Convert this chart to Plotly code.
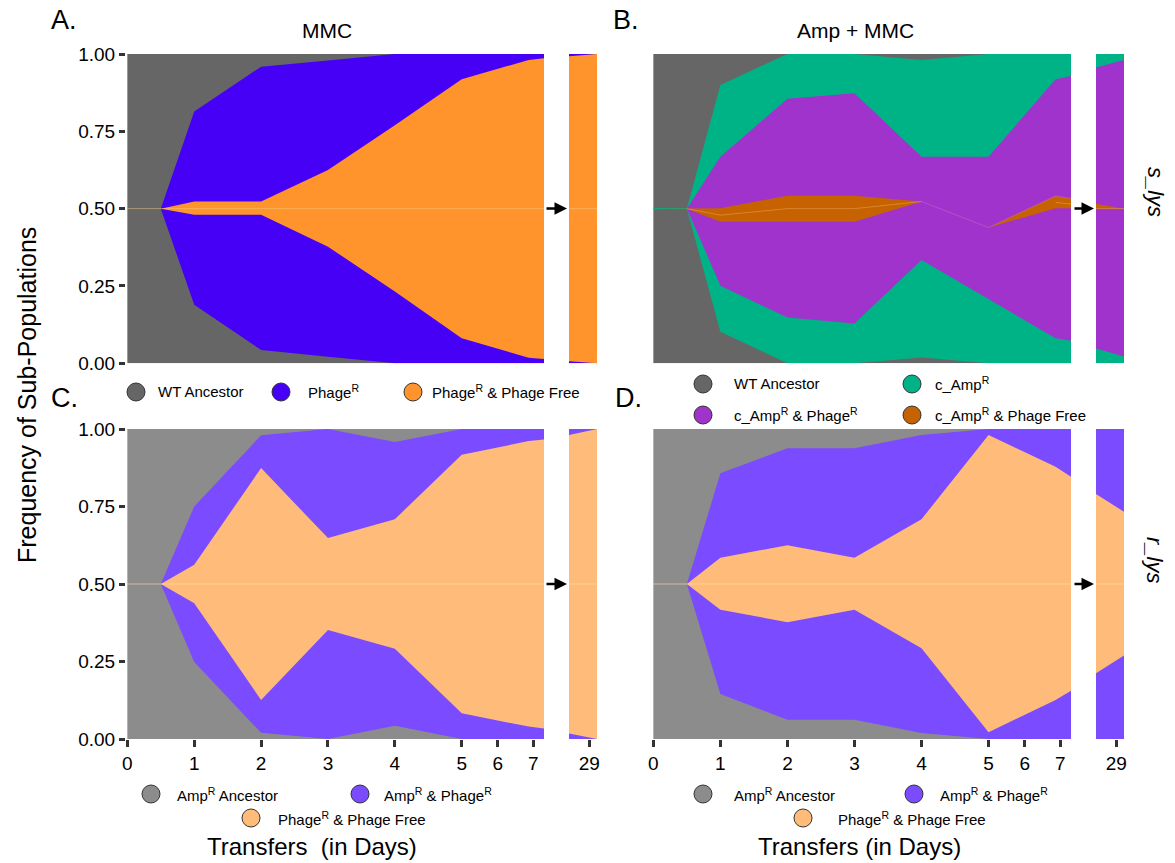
import plotly.graph_objects as go

W, H = 1175, 863
def fx(p): return p / W
def fy(p): return 1 - p / H

# ---------------- data ----------------
# x positions of the sampled transfers (days 0, 0.5, 1..5, 7, axis edge) on the compressed axis
pos_main = [0, 0.5, 1, 2, 3, 4, 5, 6.0, 6.23]
pos_strip = [28.2, 29.3]
tick_pos = [0, 1, 2, 3, 4, 5, 5.54, 6.07]
tick_text = ["0", "1", "2", "3", "4", "5", "6", "7"]
ytick_vals = [0, 0.25, 0.5, 0.75, 1.0]
ytick_text = ["0.00", "0.25", "0.50", "0.75", "1.00"]

full_hi = [1, 1, 1, 1, 1, 1, 1, 1, 1]
full_lo = [0, 0, 0, 0, 0, 0, 0, 0, 0]
strip_hi = [1, 1]
strip_lo = [0, 0]

# Panel A: MMC, s_lys
a_phager_hi = [0.5, 0.5, 0.814, 0.959, 0.979, 1.0, 1.0, 1.0, 1.0]
a_phager_lo = [0.5, 0.5, 0.189, 0.043, 0.021, 0.0, 0.0, 0.0, 0.0]
a_free_hi = [0.5, 0.5, 0.523, 0.523, 0.625, 0.770, 0.918, 0.981, 0.986]
a_free_lo = [0.5, 0.5, 0.480, 0.480, 0.377, 0.232, 0.081, 0.018, 0.014]
a_mid = [0.5, 0.5, 0.5, 0.5, 0.5, 0.5, 0.5, 0.5, 0.5]
a29_free_hi = [0.993, 1.0]
a29_free_lo = [0.007, 0.0]

# Panel B: Amp + MMC, s_lys
b_amp_hi = [0.5, 0.5, 0.900, 1.0, 1.0, 0.981, 1.0, 1.0, 1.0]
b_amp_lo = [0.5, 0.5, 0.102, 0.0, 0.0, 0.019, 0.0, 0.0, 0.0]
b_phager_hi = [0.5, 0.5, 0.668, 0.855, 0.873, 0.668, 0.668, 0.918, 0.929]
b_phager_lo = [0.5, 0.5, 0.251, 0.148, 0.129, 0.334, 0.208, 0.081, 0.073]
b_free_hi = [0.5, 0.5, 0.501, 0.542, 0.542, 0.523, 0.439, 0.541, 0.533]
b_free_lo = [0.5, 0.5, 0.458, 0.458, 0.458, 0.523, 0.439, 0.501, 0.501]
b_mid = [None, 0.5, 0.479, 0.5, 0.5, 0.523, None, 0.52, 0.515]
b29_phager_hi = [0.956, 0.981]
b29_phager_lo = [0.048, 0.022]
b29_free_hi = [0.516, 0.5]
b29_free_lo = [0.5, 0.5]

# Panel C: MMC, r_lys
c_phager_hi = [0.5, 0.5, 0.750, 0.980, 1.0, 0.958, 1.0, 1.0, 1.0]
c_phager_lo = [0.5, 0.5, 0.248, 0.020, 0.0, 0.043, 0.0, 0.0, 0.0]
c_free_hi = [0.5, 0.5, 0.562, 0.874, 0.648, 0.709, 0.917, 0.961, 0.966]
c_free_lo = [0.5, 0.5, 0.438, 0.126, 0.352, 0.291, 0.083, 0.040, 0.034]
c29_free_hi = [0.981, 1.0]
c29_free_lo = [0.018, 0.0]

# Panel D: Amp + MMC, r_lys
d_phager_hi = [0.5, 0.5, 0.857, 0.938, 0.938, 0.981, 1.0, 1.0, 1.0]
d_phager_lo = [0.5, 0.5, 0.145, 0.062, 0.062, 0.019, 0.0, 0.0, 0.0]
d_free_hi = [0.5, 0.5, 0.585, 0.625, 0.585, 0.709, 0.981, 0.878, 0.846]
d_free_lo = [0.5, 0.5, 0.417, 0.377, 0.417, 0.293, 0.022, 0.126, 0.156]
d29_free_hi = [0.790, 0.733]
d29_free_lo = [0.212, 0.269]

# colours
WT_DARK = "#666666"
PHAGER_A = "#4600F5"
FREE_A = "#FF942C"
AMP_B = "#00B386"
PHAGER_B = "#A033CC"
FREE_B = "#C66300"
WT_LIGHT = "#8C8C8C"
PHAGER_C = "#7B4BFF"
FREE_C = "#FEBB79"

FONT = "Arial, Liberation Sans, sans-serif"

fig = go.Figure()

def band(xs, lo, hi, color, k):
    xa = "x" if k == 1 else f"x{k}"
    ya = "y" if k == 1 else f"y{k}"
    fig.add_trace(go.Scatter(
        x=list(xs) + list(xs)[::-1], y=list(hi) + list(lo)[::-1],
        fill="toself", fillcolor=color, mode="lines",
        line=dict(width=0, color=color), xaxis=xa, yaxis=ya,
        hoverinfo="skip", showlegend=False))

def midline(xs, ys, color, k, width=1):
    xa = "x" if k == 1 else f"x{k}"
    ya = "y" if k == 1 else f"y{k}"
    fig.add_trace(go.Scatter(x=xs, y=ys, mode="lines", line=dict(color=color, width=width),
                             xaxis=xa, yaxis=ya, hoverinfo="skip", showlegend=False))

# Panel A
band(pos_main, full_lo, full_hi, WT_DARK, 1)
band(pos_main, a_phager_lo, a_phager_hi, PHAGER_A, 1)
band(pos_main, a_free_lo, a_free_hi, FREE_A, 1)
midline(pos_main, a_mid, "rgba(245,205,130,0.5)", 1)
band(pos_strip, strip_lo, strip_hi, PHAGER_A, 2)
band(pos_strip, a29_free_lo, a29_free_hi, FREE_A, 2)
midline(pos_strip, [0.5, 0.5], "rgba(245,205,130,0.5)", 2)

# Panel B
band(pos_main, full_lo, full_hi, WT_DARK, 3)
band(pos_main, b_amp_lo, b_amp_hi, AMP_B, 3)
midline(pos_main[:2], [0.5, 0.5], AMP_B, 3)
band(pos_main, b_phager_lo, b_phager_hi, PHAGER_B, 3)
band(pos_main, b_free_lo, b_free_hi, FREE_B, 3)
midline(pos_main, b_mid, "rgba(235,160,90,0.55)", 3)
midline(pos_main[5:], b_free_hi[5:], "rgba(215,120,190,0.5)", 3, 0.8)
band(pos_strip, strip_lo, strip_hi, AMP_B, 4)
band(pos_strip, b29_phager_lo, b29_phager_hi, PHAGER_B, 4)
band(pos_strip, b29_free_lo, b29_free_hi, FREE_B, 4)
midline(pos_strip, [0.5, 0.5], "rgba(235,160,90,0.55)", 4)

# Panel C
band(pos_main, full_lo, full_hi, WT_LIGHT, 5)
band(pos_main, c_phager_lo, c_phager_hi, PHAGER_C, 5)
band(pos_main, c_free_lo, c_free_hi, FREE_C, 5)
midline(pos_main, a_mid, "rgba(255,235,160,0.55)", 5)
band(pos_strip, strip_lo, strip_hi, PHAGER_C, 6)
band(pos_strip, c29_free_lo, c29_free_hi, FREE_C, 6)
midline(pos_strip, [0.5, 0.5], "rgba(255,235,160,0.55)", 6)

# Panel D
band(pos_main, full_lo, full_hi, WT_LIGHT, 7)
band(pos_main, d_phager_lo, d_phager_hi, PHAGER_C, 7)
band(pos_main, d_free_lo, d_free_hi, FREE_C, 7)
midline(pos_main, a_mid, "rgba(255,235,160,0.55)", 7)
band(pos_strip, strip_lo, strip_hi, PHAGER_C, 8)
band(pos_strip, d29_free_lo, d29_free_hi, FREE_C, 8)
midline(pos_strip, [0.5, 0.5], "rgba(255,235,160,0.55)", 8)

# ---------------- axes ----------------
row1 = [fy(363.3), fy(54)]
row2 = [fy(739), fy(429)]
colA = [fx(126), fx(544)]
colAs = [fx(569), fx(597)]
colB = [fx(652), fx(1071)]
colBs = [fx(1096), fx(1124)]

tickfont = dict(family=FONT, size=19, color="black")
xmain_range = [-0.02, 6.23]
xstrip_range = [28.2, 29.3]

def xax(domain, rng, anchor, show):
    d = dict(domain=domain, range=rng, anchor=anchor, showgrid=False, zeroline=False,
             showline=False, fixedrange=True, automargin=False)
    if show:
        d.update(ticks="outside", ticklen=7, tickwidth=3, tickcolor="#333333",
                 tickfont=tickfont, showticklabels=True)
    else:
        d.update(ticks="", showticklabels=False)
    return d

def yax(domain, anchor, show):
    d = dict(domain=domain, range=[0, 1], anchor=anchor, showgrid=False, zeroline=False,
             showline=False, fixedrange=True, automargin=False)
    if show:
        d.update(ticks="outside", ticklen=6, tickwidth=3, tickcolor="#333333",
                 tickvals=ytick_vals, ticktext=ytick_text, tickfont=tickfont, showticklabels=True)
    else:
        d.update(ticks="", showticklabels=False)
    return d

layout_axes = {}
specs = [
    (1, colA, xmain_range, row1, False, True),
    (2, colAs, xstrip_range, row1, False, False),
    (3, colB, xmain_range, row1, False, False),
    (4, colBs, xstrip_range, row1, False, False),
    (5, colA, xmain_range, row2, True, True),
    (6, colAs, xstrip_range, row2, True, False),
    (7, colB, xmain_range, row2, True, False),
    (8, colBs, xstrip_range, row2, True, False),
]
for k, xd, xr, yd, showx, showy in specs:
    xn = "xaxis" if k == 1 else f"xaxis{k}"
    yn = "yaxis" if k == 1 else f"yaxis{k}"
    ya = "y" if k == 1 else f"y{k}"
    xa = "x" if k == 1 else f"x{k}"
    xd_ = xax(xd, xr, ya, showx)
    if showx:
        if xr == xmain_range:
            xd_.update(tickvals=tick_pos, ticktext=tick_text)
        else:
            xd_.update(tickvals=[29], ticktext=["29"])
    layout_axes[xn] = xd_
    layout_axes[yn] = yax(yd, xa, showy)

# ---------------- annotations ----------------
ann = []
def text(x, y, s, size, xanchor="center", yanchor="middle", angle=0):
    ann.append(dict(x=fx(x), y=fy(y), xref="paper", yref="paper", text=s, showarrow=False,
                    xanchor=xanchor, yanchor=yanchor, textangle=angle,
                    font=dict(family=FONT, size=size, color="black")))

text(64, 20, "A.", 27)
text(626, 20, "B.", 27)
text(64, 398, "C.", 27)
text(628, 398, "D.", 27)
text(327, 30, "MMC", 21)
text(855, 30, "Amp + MMC", 21)
text(27, 395, "Frequency of Sub-Populations", 25, angle=-90)
text(312, 846, "Transfers \u00a0(in Days)", 24)
text(860, 846, "Transfers (in Days)", 24)
text(1155, 192, "<i>s_lys</i>", 22, angle=90)
text(1155, 560, "<i>r_lys</i>", 22, angle=90)

# arrows between main panel and day-29 strip
for (x0, x1, yy) in [(545, 567, 208.6), (1073, 1094, 208.6), (545, 567, 584), (1073, 1094, 584)]:
    ann.append(dict(x=fx(x1), y=fy(yy), xref="paper", yref="paper", ax=x0 - x1, ay=0,
                    axref="pixel", ayref="pixel", showarrow=True, arrowhead=2, arrowsize=1,
                    arrowwidth=2.5, arrowcolor="black", text=""))

# legends
shapes = []
legend_items = [
    # (cx, cy, color, label, text_x)
    (136, 392, WT_DARK, "WT Ancestor", 156),
    (281, 392, PHAGER_A, "Phage<sup>R</sup>", 306),
    (413, 392, FREE_A, "Phage<sup>R</sup> &amp; Phage Free", 430),
    (703, 384, WT_DARK, "WT Ancestor", 732),
    (912, 384, AMP_B, "c_Amp<sup>R</sup>", 933),
    (703, 415, PHAGER_B, "c_Amp<sup>R</sup> &amp; Phage<sup>R</sup>", 732),
    (912, 415, FREE_B, "c_Amp<sup>R</sup> &amp; Phage Free", 933),
    (151, 794, WT_LIGHT, "Amp<sup>R</sup> Ancestor", 175),
    (360, 794, PHAGER_C, "Amp<sup>R</sup> &amp; Phage<sup>R</sup>", 382),
    (251, 818, FREE_C, "Phage<sup>R</sup> &amp; Phage Free", 276),
    (703, 794, WT_LIGHT, "Amp<sup>R</sup> Ancestor", 732),
    (914, 794, PHAGER_C, "Amp<sup>R</sup> &amp; Phage<sup>R</sup>", 938),
    (803, 818, FREE_C, "Phage<sup>R</sup> &amp; Phage Free", 836),
]
r = 9
for cx, cy, col, lab, tx in legend_items:
    shapes.append(dict(type="circle", xref="paper", yref="paper",
                       x0=fx(cx - r), x1=fx(cx + r), y0=fy(cy + r), y1=fy(cy - r),
                       fillcolor=col, line=dict(color="#333333", width=1)))
    ann.append(dict(x=fx(tx), y=fy(cy), xref="paper", yref="paper", text=lab, showarrow=False,
                    xanchor="left", yanchor="middle",
                    font=dict(family=FONT, size=15, color="black")))

fig.update_layout(
    width=W, height=H, margin=dict(l=0, r=0, t=0, b=0, autoexpand=False),
    paper_bgcolor="white", plot_bgcolor="white", showlegend=False,
    annotations=ann, shapes=shapes, **layout_axes)

fig.write_html("out.html", config={"displayModeBar": False})
